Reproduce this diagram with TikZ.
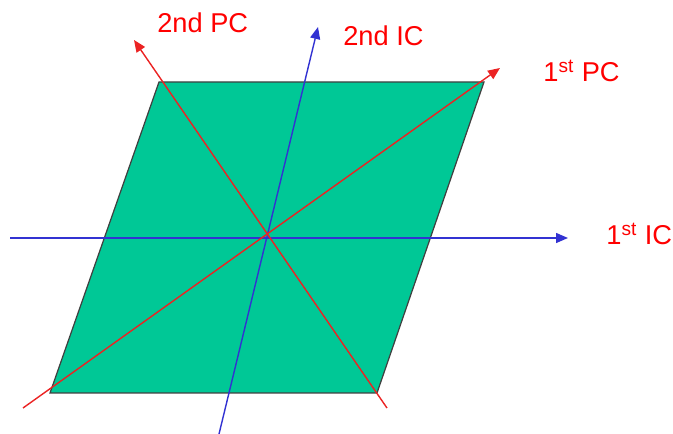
\documentclass[tikz,border=0pt]{standalone}
\usepackage{fontspec}
\setmainfont{Liberation Sans}
\usetikzlibrary{arrows.meta}
\definecolor{pcgreen}{RGB}{0,200,150}
\definecolor{pcred}{RGB}{235,35,35}
\definecolor{icblue}{RGB}{50,50,210}
\definecolor{labred}{RGB}{255,0,0}
\newcommand{\drawaxis}[1]{\draw[-{Triangle[length=2.4mm, width=2mm]}, line width=0.8pt, #1]}

\begin{document}
\begin{tikzpicture}[x=0.2mm, y=-0.2mm,
    axislabel/.style={anchor=base west, inner sep=0pt, text=labred,
        font=\fontsize{15.5}{18}\selectfont}]
    \useasboundingbox (0,0) rectangle (673,434);

    % Draw parallelogram
    \coordinate (bl) at (50,393);
    \coordinate (br) at (377,393);
    \coordinate (tr) at (484,82);
    \coordinate (tl) at (159,82);
    \filldraw[fill=pcgreen, draw=black!75, line width=0.7pt] (bl) -- (br) -- (tr) -- (tl) -- cycle;

    % Draw axis ends
    \coordinate (ic1s) at (10,238);
    \coordinate (ic1e) at (568,238);
    \coordinate (ic2s) at (219,434);
    \coordinate (ic2e) at (318,27);
    \coordinate (pc1s) at (23,408);
    \coordinate (pc1e) at (500,68);
    \coordinate (pc2s) at (387,408);
    \coordinate (pc2e) at (134,40);

    % Draw components
    \drawaxis{icblue} (ic1s) -- (ic1e);
    \drawaxis{icblue} (ic2s) -- (ic2e);
    \drawaxis{pcred} (pc1s) -- (pc1e);
    \drawaxis{pcred} (pc2s) -- (pc2e);

    \node[axislabel] (pc2lab) at (157,33) {2nd PC};
    \node[axislabel] (ic2lab) at (343,46) {2nd IC};
    \node[axislabel] (pc1lab) at (543,82) {1\textsuperscript{st} PC};
    \node[axislabel] (ic1lab) at (606,245) {1\textsuperscript{st} IC};
\end{tikzpicture}
\end{document}
